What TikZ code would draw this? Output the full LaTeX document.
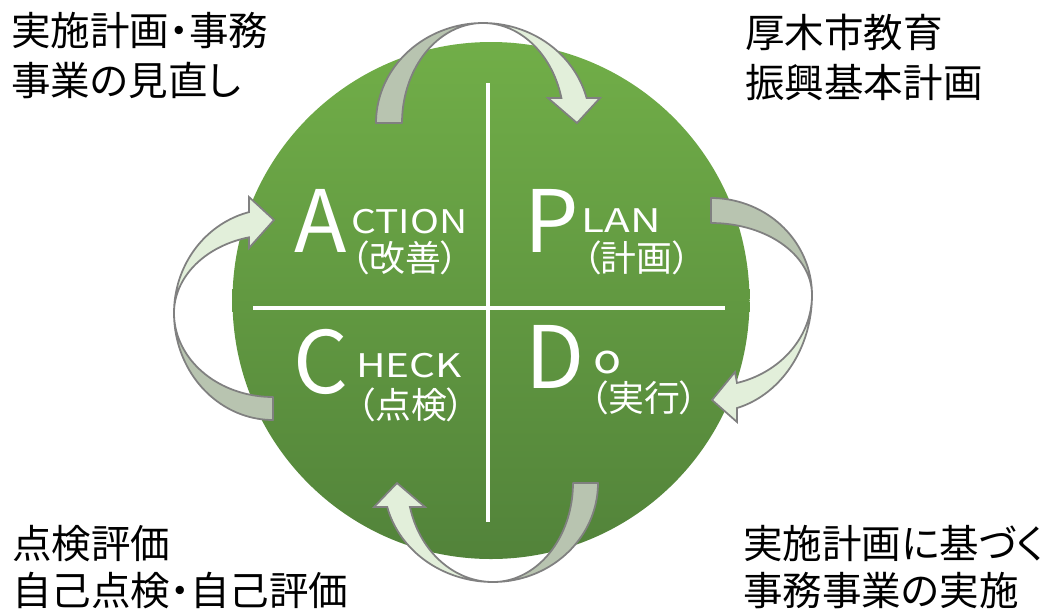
\documentclass[tikz,border=0pt]{standalone}
\usepackage{fontspec}
\setmainfont{Noto Sans CJK JP}[RawFeature={+palt}]
\definecolor{gtop}{HTML}{71AE48}
\definecolor{gmid}{HTML}{69A443}
\definecolor{gbot}{HTML}{52833A}
\definecolor{backc}{HTML}{B8C4B0}
\definecolor{frontc}{HTML}{E2EFDA}
\definecolor{edgec}{HTML}{808080}
\newcommand{\widetxt}[2]{\scalebox{#1}[1]{#2}}
\begin{document}
\begin{tikzpicture}[x=0.02cm,y=-0.02cm,
  backpart/.style={fill=backc, draw=edgec, line width=1pt, line join=round},
  frontpart/.style={fill=frontc, draw=edgec, line width=1pt, line join=miter},
  outer/.style={anchor=base west, inner sep=0pt, text=black, font=\fontsize{22.5}{26}\selectfont},
  big/.style={anchor=base west, inner sep=0pt, text=white, font=\fontsize{49}{50}\selectfont},
  small/.style={anchor=base west, inner sep=0pt, text=white, font=\fontsize{18.5}{20}\selectfont},
  paren/.style={inner sep=0pt, text=white, font=\fontsize{20.4}{22}\selectfont},
  cross/.style={white, line width=2.8pt}]
\useasboundingbox (0,0) rectangle (1052,613);
% disc
\shade[top color=gtop, middle color=gmid, bottom color=gbot] (491,300.5) circle (258.5);
\draw[cross] (488,83) -- (488,522);
\draw[cross] (253,308) -- (725,308);
% top arrow
\filldraw[backpart] plot[variable=\t,domain=180:90,samples=40] ({483+107*cos(\t)},{123-100*sin(\t)})
  -- plot[variable=\t,domain=90:180,samples=40] ({483+81*cos(\t)},{123-100*sin(\t)}) -- cycle;
\filldraw[frontpart] plot[variable=\t,domain=90:14.48,samples=40] ({483+107*cos(\t)},{123-100*sin(\t)})
  -- (600,98) -- (577,123) -- (548,98)
  -- plot[variable=\t,domain=14.48:90,samples=40] ({483+81*cos(\t)},{123-100*sin(\t)}) -- cycle;
% right arrow
\filldraw[backpart] plot[variable=\t,domain=90:0,samples=40] ({711+101*cos(\t)},{295-97*sin(\t)})
  -- plot[variable=\t,domain=0:90,samples=40] ({711+101*cos(\t)},{295-72*sin(\t)}) -- cycle;
\filldraw[frontpart] plot[variable=\t,domain=0:-75.1,samples=40] ({711+101*cos(\t)},{295-117*sin(\t)})
  -- (737,422) -- (712,400) -- (735,372)
  -- plot[variable=\t,domain=-75.1:0,samples=40] ({711+101*cos(\t)},{295-91*sin(\t)}) -- cycle;
% left arrow
\filldraw[backpart] plot[variable=\t,domain=180:270,samples=40] ({273+99*cos(\t)},{313-107*sin(\t)})
  -- plot[variable=\t,domain=270:180,samples=40] ({273+99*cos(\t)},{313-84*sin(\t)}) -- cycle;
\filldraw[frontpart] plot[variable=\t,domain=180:104.03,samples=40] ({273+99*cos(\t)},{313-104*sin(\t)})
  -- (249,197) -- (274,220) -- (249,248)
  -- plot[variable=\t,domain=104.03:180,samples=40] ({273+99*cos(\t)},{313-78*sin(\t)}) -- cycle;
% bottom arrow
\filldraw[backpart] plot[variable=\t,domain=0:-90,samples=40] ({493+105*cos(\t)},{483-99*sin(\t)})
  -- plot[variable=\t,domain=-90:0,samples=40] ({493+80*cos(\t)},{483-99*sin(\t)}) -- cycle;
\filldraw[frontpart] plot[variable=\t,domain=270:194.03,samples=40] ({493+109*cos(\t)},{483-99*sin(\t)})
  -- (374,507) -- (397,483) -- (425,507)
  -- plot[variable=\t,domain=194.03:270,samples=40] ({493+85.6*cos(\t)},{483-99*sin(\t)}) -- cycle;
% quadrant labels
\node[big] (abig) at (294,252) {A};
\node[small] (asm) at (351,233) {\widetxt{1.2}{CTION}};
\node[paren] (ajp) at (405,257.5) {（改善）};
\node[big] (pbig) at (524,252) {P};
\node[small] (psm) at (581,232) {\widetxt{1.3}{LAN}};
\node[paren] (pjp) at (636.5,257.5) {（計画）};
\node[big] (cbig) at (293,393) {C};
\node[small] (csm) at (356,377) {\widetxt{1.25}{HECK}};
\node[paren] (cjp) at (411,404.5) {（点検）};
\node[big] (dbig) at (525,388) {D};
\node[small, font=\fontsize{23}{24}\selectfont] (dsm) at (593,373) {\widetxt{1.15}{o}};
\node[paren] (djp) at (644,398) {（実行）};
% outer texts
\node[outer] (tl1) at (11,45) {実施計画・事務};
\node[outer] (tl2) at (11,95) {事業の見直し};
\node[outer] (tr1) at (745,47) {厚木市教育};
\node[outer] (tr2) at (745,97) {振興基本計画};
\node[outer] (bl1) at (12,558) {点検評価};
\node[outer] (bl2) at (12,605) {自己点検・自己評価};
\node[outer] (br1) at (743,558) {実施計画に基づく};
\node[outer] (br2) at (743,605) {事務事業の実施};
\end{tikzpicture}
\end{document}
